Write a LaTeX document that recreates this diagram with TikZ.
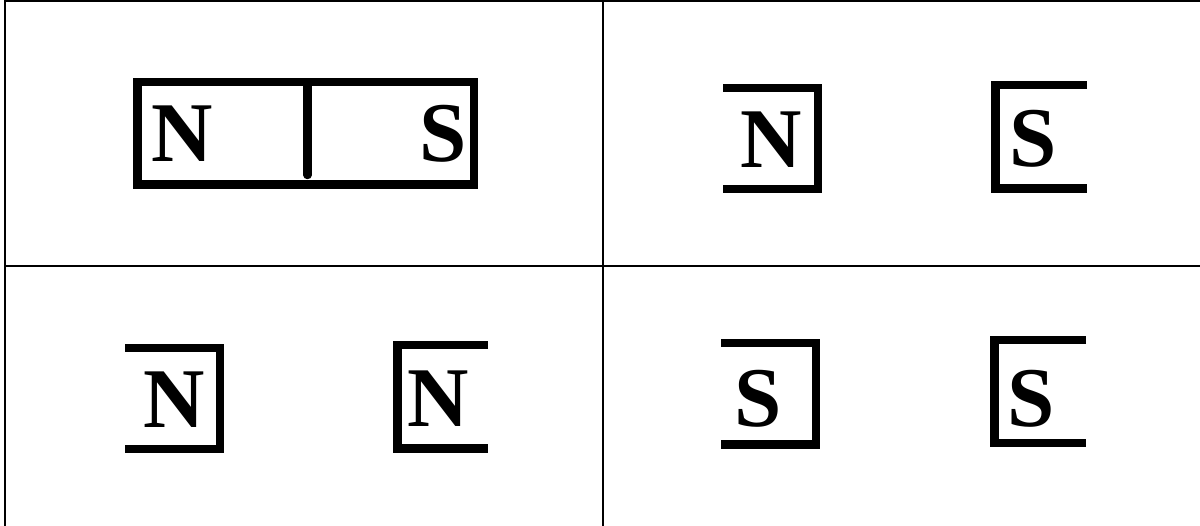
\documentclass[tikz,border=0pt]{standalone}
\usepackage{fontspec}
\setmainfont{Liberation Serif}[BoldFont={Liberation Serif Bold}]
\newfontfamily\polefont{Liberation Serif Bold}
\begin{document}
\begin{tikzpicture}[x=1pt,y=-1pt,
  grid/.style={line width=2pt,black},
  mag/.style={line width=8.5pt,black,line join=miter,line cap=butt},
  pole/.style={inner sep=0pt,anchor=base,font=\fontsize{85}{85}\polefont}]
\useasboundingbox (0,0) rectangle (1200,526);
% table grid
\draw[grid] (5,1.5) -- (1200,1.5);
\draw[grid] (5,0.5) -- (5,526);
\draw[grid] (602.7,0) -- (602.7,526);
\draw[grid] (5,265.7) -- (1200,265.7);
% top-left: bar magnet
\draw[mag] (137.5,82) rectangle (474,184.5);
\draw[mag,line cap=round] (307.5,86) -- (307.5,175);
\node[pole] (n1) at (182,162) {N};
\node[pole] (s1) at (443,162) {S};
% top-right
\draw[mag] (723,88) -- (818,88) -- (818,189) -- (723,189);
\node[pole] (n2) at (771.5,168) {N};
\draw[mag] (1087,85) -- (995.5,85) -- (995.5,188.5) -- (1087,188.5);
\node[pole] (s2) at (1033,167) {S};
% bottom-left
\draw[mag] (125,348) -- (220,348) -- (220,449) -- (125,449);
\node[pole] (n3) at (174.5,428) {N};
\draw[mag] (488,345) -- (397.5,345) -- (397.5,448.5) -- (488,448.5);
\node[pole] (n4) at (438.5,427) {N};
% bottom-right
\draw[mag] (721,343) -- (816,343) -- (816,444.5) -- (721,444.5);
\node[pole] (s3) at (758,427) {S};
\draw[mag] (1086,340) -- (994.5,340) -- (994.5,443) -- (1086,443);
\node[pole] (s4) at (1031,427) {S};
\end{tikzpicture}
\end{document}
